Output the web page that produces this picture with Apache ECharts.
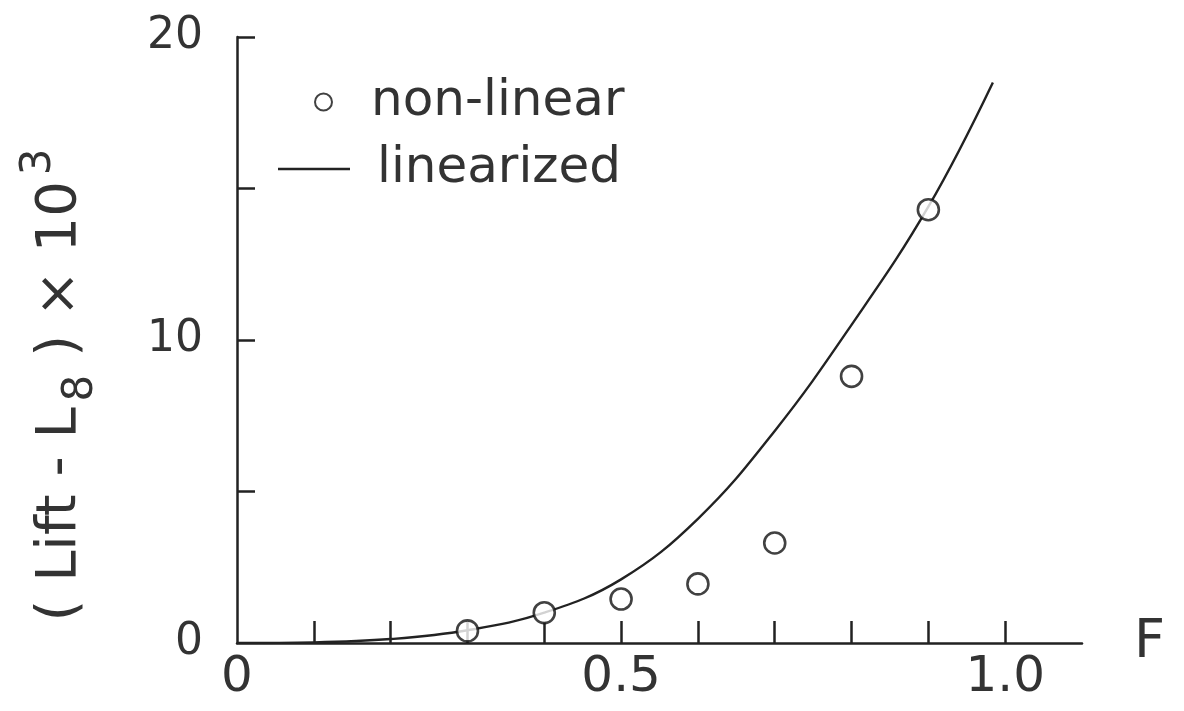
<!DOCTYPE html>
<html>
<head>
<meta charset="utf-8">
<script src="https://cdn.jsdelivr.net/npm/echarts@6/dist/echarts.min.js"></script>
<style>
    html, body { margin: 0; background: #fff; }
    #main { width: 1184px; height: 711px; }
</style>
</head>
<body>
<div id="main"></div>
<script>
    // values
    var xTickValues = [0.1, 0.2, 0.3, 0.4, 0.5, 0.6, 0.7, 0.8, 0.9, 1.0];
    var xLabelValues = [0, 0.5, 1.0];
    var xLabelTexts = ['0', '0.5', '1.0'];
    var yTickValues = [5, 10, 15, 20];
    var yLabelValues = [0, 10, 20];

    var nonLinearF = [0.3, 0.4, 0.5, 0.6, 0.7, 0.8, 0.9];
    var nonLinearLift = [0.4, 1.0, 1.45, 1.95, 3.3, 8.8, 14.3];

    var linearF = [0, 0.1, 0.2, 0.3, 0.4, 0.5, 0.6, 0.7, 0.8, 0.9, 0.984];
    var linearLift = [0, 0.02, 0.13, 0.42, 1.0, 2.1, 4.1, 7.0, 10.5, 14.4, 18.5];

    var ink = '#222';
    var font = 'DejaVu Sans';

    function pairs(xs, ys) {
        return xs.map(function (x, i) { return [x, ys[i]]; });
    }

    var myChart = echarts.init(document.getElementById('main'));

    var option = {
        backgroundColor: '#fff',
        animation: false,
        grid: {
            left: 237,
            right: 102,
            top: 37,
            bottom: 68,
            outerBoundsMode: 'none'
        },
        legend: [
            {
                data: ['non-linear'],
                left: 309,
                top: 72,
                itemWidth: 17,
                itemHeight: 17,
                textStyle: { fontFamily: font, fontSize: 50, color: '#333', padding: [0, 0, 0, 34] }
            },
            {
                data: [{ name: 'linearized', icon: 'rect' }],
                left: 273,
                top: 139,
                itemWidth: 72,
                itemHeight: 2.5,
                textStyle: { fontFamily: font, fontSize: 50, color: '#333', padding: [0, 0, 0, 22] }
            }
        ],
        xAxis: {
            type: 'value',
            min: 0,
            max: 1.1,
            name: 'F',
            nameLocation: 'end',
            nameGap: 52,
            nameTextStyle: { fontFamily: font, fontSize: 54, color: '#333', padding: [44, 0, 0, 0] },
            splitLine: { show: false },
            axisLine: { lineStyle: { color: ink, width: 2.5 } },
            axisTick: {
                inside: true,
                length: 22,
                customValues: xTickValues,
                lineStyle: { color: ink, width: 2.5 }
            },
            axisLabel: {
                customValues: xLabelValues,
                margin: 10,
                fontFamily: font,
                fontSize: 50,
                color: '#333',
                formatter: function (v) {
                    var i = xLabelValues.indexOf(v);
                    return i >= 0 ? xLabelTexts[i] : '';
                }
            }
        },
        yAxis: {
            type: 'value',
            min: 0,
            max: 20,
            name: '{a|( Lift - L}{sub|8}{a| ) × 10}{sup|3}',
            nameLocation: 'middle',
            nameRotate: 90,
            nameGap: 135,
            nameTextStyle: {
                padding: [0, 90, 0, 0],
                rich: {
                    a: { fontFamily: font, fontSize: 56, color: '#333', lineHeight: 84, verticalAlign: 'middle' },
                    sub: { fontFamily: font, fontSize: 42, color: '#333', lineHeight: 84, verticalAlign: 'bottom', padding: [26, 0, 0, 6] },
                    sup: { fontFamily: font, fontSize: 42, color: '#333', lineHeight: 84, verticalAlign: 'top', padding: [0, 0, 26, 6] }
                }
            },
            splitLine: { show: false },
            axisLine: { lineStyle: { color: ink, width: 2.5 } },
            axisTick: {
                inside: true,
                length: 18,
                customValues: yTickValues,
                lineStyle: { color: ink, width: 2.5 }
            },
            axisLabel: {
                customValues: yLabelValues,
                margin: 34,
                fontFamily: font,
                fontSize: 44,
                color: '#333'
            }
        },
        series: [
            {
                name: 'linearized',
                type: 'line',
                smooth: 0.4,
                showSymbol: false,
                symbol: 'none',
                lineStyle: { color: ink, width: 2.4 },
                itemStyle: { color: ink },
                data: pairs(linearF, linearLift),
                z: 2
            },
            {
                name: 'non-linear',
                type: 'scatter',
                symbol: 'circle',
                symbolSize: 21,
                itemStyle: { color: '#fff', borderColor: '#111', borderWidth: 2.6 },
                data: pairs(nonLinearF, nonLinearLift),
                z: 3
            }
        ]
    };

    myChart.setOption(option);
    window.addEventListener('resize', myChart.resize);
</script>
</body>
</html>
